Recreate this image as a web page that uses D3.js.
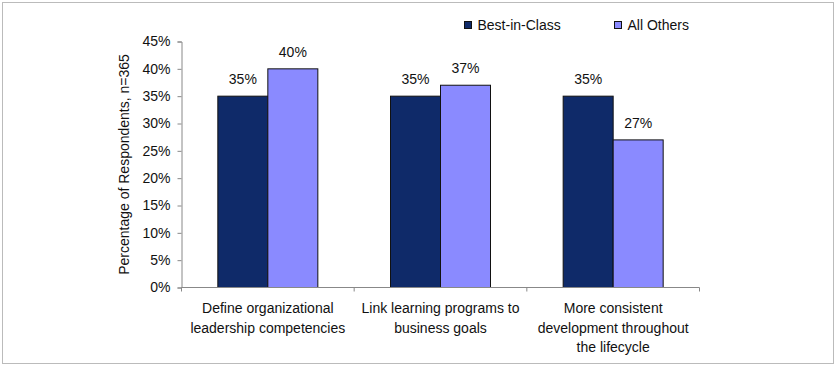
<!DOCTYPE html>
<html><head><meta charset="utf-8">
<script src="https://cdn.jsdelivr.net/npm/d3@7"></script>
<style>body{margin:0;background:#fff}svg{display:block;font-family:"Liberation Sans",Arial,sans-serif}</style>
</head><body>
<svg id="c" width="838" height="368"></svg>
<script>
const categories = [
  ["Define organizational", "leadership competencies"],
  ["Link learning programs to", "business goals"],
  ["More consistent", "development throughout", "the lifecycle"]
];
const seriesNames = ["Best-in-Class", "All Others"];
const bestInClass = [35, 35, 35];
const allOthers = [40, 37, 27];
const yTicks = [0, 5, 10, 15, 20, 25, 30, 35, 40, 45];
const colors = ["#0f2a69", "#8a8aff"];
const FS = 14;

const svg = d3.select("#c");
svg.append("rect").attr("x", 2.5).attr("y", 2.5).attr("width", 831).attr("height", 361)
  .attr("fill", "#fff").attr("stroke", "#bbb").attr("stroke-width", 1);

const m = {left: 181.5, right: 699.5, top: 41.5, bottom: 287.5};
const x0 = d3.scaleBand().domain(d3.range(categories.length)).range([m.left, m.right]).paddingInner(0).paddingOuter(0);
const x1 = d3.scaleBand().domain([0, 1]).range([0, 100]);
const y = d3.scaleLinear().domain([0, 45]).range([m.bottom, m.top]);
const off = (x0.bandwidth() - 100) / 2;

const series = [bestInClass, allOthers];
series.forEach((vals, s) => {
  svg.append("g").selectAll("rect").data(vals).join("rect")
    .attr("x", (d, i) => x0(i) + off + x1(s))
    .attr("y", d => y(d))
    .attr("width", x1.bandwidth())
    .attr("height", d => y(0) - y(d))
    .attr("fill", colors[s]).attr("stroke", "#111").attr("stroke-width", 1);
  svg.append("g").selectAll("text").data(vals).join("text")
    .attr("x", (d, i) => x0(i) + off + x1(s) + x1.bandwidth() / 2)
    .attr("y", d => y(d) - 12)
    .attr("text-anchor", "middle").attr("font-size", FS).attr("fill", "#111")
    .text(d => d + "%");
});

// y axis
const ya = svg.append("g").attr("transform", `translate(${m.left},0)`)
  .call(d3.axisLeft(y).tickValues(yTicks).tickSize(4).tickPadding(7).tickFormat(d => d + "%"));
ya.select(".domain").attr("stroke", "#888");
ya.selectAll(".tick line").attr("stroke", "#888");
ya.selectAll("text").attr("font-size", FS).attr("fill", "#111").attr("font-family", "Liberation Sans, Arial, sans-serif");

// x axis
const xa = svg.append("g").attr("transform", `translate(0,${m.bottom})`);
xa.append("line").attr("x1", m.left).attr("x2", m.right).attr("stroke", "#888");
const bounds = d3.range(categories.length + 1).map(i => i < categories.length ? x0(i) : m.right);
xa.selectAll("line.t").data(bounds).join("line").attr("class", "t")
  .attr("x1", d => d).attr("x2", d => d).attr("y1", 0).attr("y2", 4).attr("stroke", "#888");
categories.forEach((lines, i) => {
  const t = svg.append("text").attr("text-anchor", "middle").attr("font-size", FS).attr("fill", "#111");
  lines.forEach((l, j) => t.append("tspan").attr("x", x0(i) + x0.bandwidth() / 2).attr("y", 313 + j * 19.5).text(l));
});

// y label
svg.append("text").attr("transform", `translate(129,${(m.top + m.bottom) / 2}) rotate(-90)`)
  .attr("text-anchor", "middle").attr("font-size", FS).attr("fill", "#111")
  .text("Percentage of Respondents, n=365");

// legend
const legX = [464.5, 614.5];
seriesNames.forEach((n, i) => {
  svg.append("rect").attr("x", legX[i]).attr("y", 21.5).attr("width", 7).attr("height", 7)
    .attr("fill", colors[i]).attr("stroke", "#111");
  svg.append("text").attr("x", legX[i] + 13).attr("y", 30).attr("font-size", FS).attr("fill", "#111").text(n);
});
</script>
</body></html>
